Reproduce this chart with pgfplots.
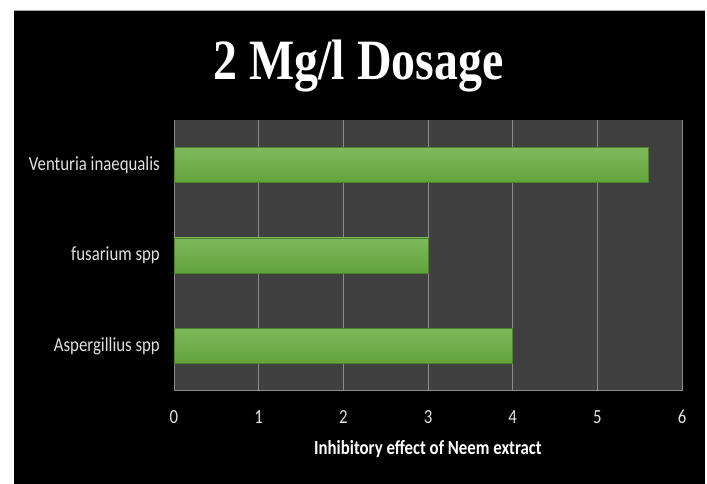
\documentclass[border=0pt]{standalone}
\usepackage{pgfplots}
\pgfplotsset{compat=1.18}
\usepackage{fontspec}
\newfontfamily\carlito[FakeStretch=0.84]{Carlito}
\newfontfamily\titlefont[FakeStretch=0.84]{Liberation Serif}
\definecolor{plotbg}{RGB}{64,64,64}
\definecolor{gridc}{RGB}{140,140,140}
\definecolor{bartop}{RGB}{126,186,92}
\definecolor{barbot}{RGB}{98,162,58}
\definecolor{bardraw}{RGB}{78,132,44}
\definecolor{labc}{RGB}{225,225,225}
\tikzset{greenbar/.style={xbar, bar width=35bp, bar shift=0pt, top color=bartop, bottom color=barbot, draw=bardraw, line width=0.8bp}}
\begin{document}
\begin{tikzpicture}[x=1bp,y=1bp]
\fill[white] (0,0) rectangle (707,484);
\fill[black] (14,0) rectangle (705,474);
\draw[gray!70,line width=0.8bp] (14,474) -- (705,474);
\node[anchor=base,text=white,font=\titlefont\bfseries\fontsize{57bp}{60bp}\selectfont] at (358.5,404) {2 Mg/l Dosage};
\begin{axis}[
  at={(174bp,93bp)}, anchor=south west,
  scale only axis, width=508bp, height=271bp,
  xmin=0, xmax=6, ymin=-0.5, ymax=2.5,
  axis background/.style={fill=plotbg},
  axis x line*=bottom, axis y line*=left,
  axis line style={gridc, line width=1bp, -},
  xmajorgrids, grid style={gridc, line width=1bp},
  xtick={0,1,2,3,4,5,6},
  ytick={0,1,2},
  yticklabels={Aspergillius spp, fusarium spp, Venturia inaequalis},
  major tick length=0pt,
  /pgf/number format/assume math mode=true,
  tick label style={text=labc, font=\carlito\fontsize{20bp}{24bp}\selectfont, inner sep=0pt},
  xticklabel style={anchor=base, yshift=-33bp},
  yticklabel style={anchor=east, xshift=-14bp},
  xlabel={Inhibitory effect of Neem extract},
  xlabel style={at={(axis description cs:0.5,0)}, anchor=center, yshift=-58bp, inner sep=0pt, text=white, font=\carlito\bfseries\fontsize{20bp}{24bp}\selectfont},
  xbar,
]
\addplot[greenbar] coordinates {(4,0)};
\addplot[greenbar] coordinates {(3,1)};
\addplot[greenbar] coordinates {(5.6,2)};
\end{axis}
\end{tikzpicture}
\end{document}
